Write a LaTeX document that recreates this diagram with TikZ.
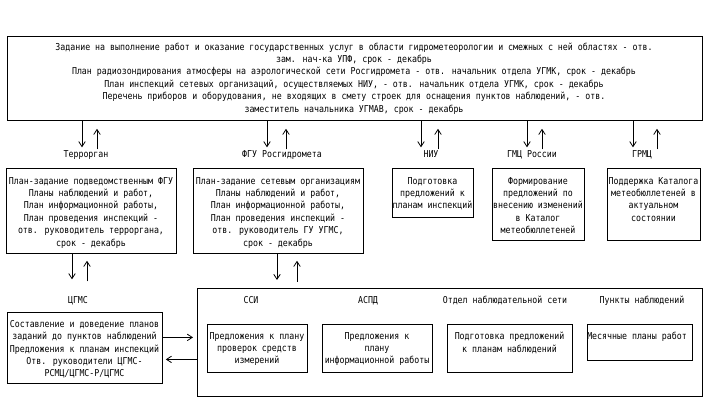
\documentclass[tikz,border=0pt]{standalone}
\usepackage{fontspec}
\setmainfont[FakeStretch=0.87]{DejaVu Sans Mono}
\usetikzlibrary{arrows.meta, positioning}

\begin{document}
\begin{tikzpicture}[
    x=1pt,
    y=-1pt,
    ramka/.style={
        draw,
        line width=0.8pt,
        inner sep=0pt,
        anchor=north west
    },
    tekst/.style={
        align=center,
        inner sep=0pt,
        anchor=north,
        font=\fontsize{9.5}{12.4}\selectfont
    },
    metka/.style={
        inner sep=1pt,
        text height=7pt,
        text depth=2pt,
        font=\fontsize{9.5}{12.4}\selectfont
    },
    strelka/.style={
        line width=0.8pt,
        -{Straight Barb[length=5pt, width=6.5pt]}
    }
]

\useasboundingbox (0,0) rectangle (713,411);

% ---------------- Plan ----------------

\node[
    ramka,
    minimum width=695pt,
    minimum height=84pt
] (plan) at (7,36)
{};

\node[tekst] (plantxt) at (354,42.5)
{
    Задание на выполнение работ и оказание государственных услуг в области гидрометеорологии и смежных с ней областях - отв.\\
    зам. нач-ка УПФ, срок - декабрь\\
    План радиозондирования атмосферы на аэрологической сети Росгидромета - отв. начальник отдела УГМК, срок - декабрь\\
    План инспекций сетевых организаций, осуществляемых НИУ, - отв. начальник отдела УГМК, срок - декабрь\\
    Перечень приборов и оборудования, не входящих в смету строек для оснащения пунктов наблюдений, - отв.\\
    заместитель начальника УГМАВ, срок - декабрь
};

% ---------------- Terrorgan ----------------

\node[metka] (terr) at (86,155) {Террорган};

\node[
    ramka,
    minimum width=170pt,
    minimum height=85pt
] (terrplan) at (6,168)
{};

\node[tekst] at (91,177)
{
    План-задание подведомственным ФГУ\\
    Планы наблюдений и работ,\\
    План информационной работы,\\
    План проведения инспекций -\\
    отв. руководитель терроргана,\\
    срок - декабрь
};

% ---------------- FGU ----------------

\node[metka] (fgu) at (282,155) {ФГУ Росгидромета};

\node[
    ramka,
    minimum width=170pt,
    minimum height=85pt
] (fguplan) at (193,168)
{};

\node[tekst] at (278,177)
{
    План-задание сетевым организациям\\
    Планы наблюдений и работ,\\
    План информационной работы,\\
    План проведения инспекций -\\
    отв. руководитель ГУ УГМС,\\
    срок - декабрь
};

% ---------------- NIU ----------------

\node[metka] (niu) at (431,155) {НИУ};

\node[
    ramka,
    minimum width=81pt,
    minimum height=49pt
] (niuplan) at (392,168)
{};

\node[tekst] at (432.5,177)
{
    Подготовка\\
    предложений к\\
    планам инспекций
};

% ---------------- GMC ----------------

\node[metka] (gmc) at (532,155) {ГМЦ России};

\node[
    ramka,
    minimum width=92pt,
    minimum height=72pt
] (gmcplan) at (492,168)
{};

\node[tekst] at (538,177)
{
    Формирование\\
    предложений по\\
    внесению изменений\\
    в Каталог\\
    метеобюллетеней
};

% ---------------- GRMC ----------------

\node[metka] (grmc) at (642,155) {ГРМЦ};

\node[
    ramka,
    minimum width=93pt,
    minimum height=72pt
] (grmcplan) at (607,168)
{};

\node[tekst] at (653.5,177)
{
    Поддержка Каталога\\
    метеобюллетеней в\\
    актуальном\\
    состоянии
};

% ---------------- CGMS ----------------

\node[metka] (cgms) at (78,301) {ЦГМС};

\node[
    ramka,
    minimum width=155pt,
    minimum height=71pt
] (cgmsplan) at (7,312)
{};

\node[tekst] at (84.5,320)
{
    Составление и доведение планов\\
    заданий до пунктов наблюдений\\
    Предложения к планам инспекций\\
    Отв. руководители ЦГМС-\\
    РСМЦ/ЦГМС-Р/ЦГМС
};

% ---------------- Set ----------------

\node[
    ramka,
    minimum width=505pt,
    minimum height=108pt
] (set) at (197,288)
{};

\node[metka] (ssi) at (251,301) {ССИ};
\node[metka] (aspd) at (368,301) {АСПД};
\node[metka] (otdel) at (505,301) {Отдел наблюдательной сети};
\node[metka] (punkty) at (642,301) {Пункты наблюдений};

\node[
    ramka,
    minimum width=100pt,
    minimum height=48pt
] (ssiplan) at (207,324)
{};

\node[tekst] at (257,332)
{
    Предложения к плану\\
    проверок средств\\
    измерений
};

\node[
    ramka,
    minimum width=110pt,
    minimum height=48pt
] (aspdplan) at (322,324)
{};

\node[tekst] at (377,332)
{
    Предложения к\\
    плану\\
    информационной работы
};

\node[
    ramka,
    minimum width=125pt,
    minimum height=48pt
] (otdelplan) at (447,324)
{};

\node[tekst] at (509.5,332)
{
    Подготовка предложений\\
    к планам наблюдений
};

\node[
    ramka,
    minimum width=105pt,
    minimum height=36pt
] (punktyplan) at (587,324)
{};

\node[tekst] at (639.5,332)
{
    Месячные планы работ
};

% ---------------- Strelki ----------------

\draw[strelka, shorten >=2pt] (plan.south -| 82,0) -- (terr.north -| 82,0);
\draw[strelka, shorten >=8pt] (terr.north -| 97,0) -- (plan.south -| 97,0);

\draw[strelka, shorten >=2pt] (plan.south -| 267,0) -- (fgu.north -| 267,0);
\draw[strelka, shorten >=8pt] (fgu.north -| 286,0) -- (plan.south -| 286,0);

\draw[strelka, shorten >=2pt] (plan.south -| 421,0) -- (niu.north -| 421,0);
\draw[strelka, shorten >=8pt] (niu.north -| 438,0) -- (plan.south -| 438,0);

\draw[strelka, shorten >=2pt] (plan.south -| 527,0) -- (gmc.north -| 527,0);
\draw[strelka, shorten >=8pt] (gmc.north -| 542,0) -- (plan.south -| 542,0);

\draw[strelka, shorten >=2pt] (plan.south -| 633,0) -- (grmc.north -| 633,0);
\draw[strelka, shorten >=8pt] (grmc.north -| 657,0) -- (plan.south -| 657,0);

\draw[strelka, shorten >=16pt] (terrplan.south -| 72,0) -- (cgms.north -| 72,0);
\draw[strelka, shorten <=14pt, shorten >=7pt] (cgms.north -| 87,0) -- (terrplan.south -| 87,0);

\draw[strelka, shorten >=8pt] (fguplan.south -| 277,0) -- (set.north -| 277,0);
\draw[strelka, shorten <=6pt, shorten >=7pt] (set.north -| 297,0) -- (fguplan.south -| 297,0);

\coordinate (k1) at ([yshift=10.5pt]cgmsplan.east);
\coordinate (k2) at ([yshift=-11.5pt]cgmsplan.east);

\draw[strelka, shorten >=4pt] (k1) -- (k1 -| set.west);
\draw[strelka, shorten >=3pt] (k2 -| set.west) -- (k2);

\end{tikzpicture}
\end{document}
